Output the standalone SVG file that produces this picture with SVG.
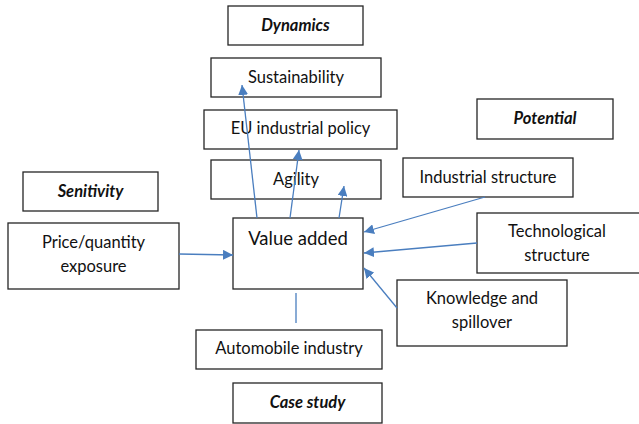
<svg xmlns="http://www.w3.org/2000/svg" width="639" height="424" viewBox="0 0 639 424">
  <style>
    .box { fill: #ffffff; stroke: #262626; stroke-width: 1.3; }
    .lbl { font-family: Lato, "Open Sans", sans-serif; font-size: 16.5px; fill: #111111; text-anchor: middle; }
    .hd { font-family: Lato, "Open Sans", sans-serif; font-size: 16.5px; font-weight: bold; font-style: italic; fill: #111111; text-anchor: middle; }
    .big { font-size: 18.5px; }
    .link { stroke: #4a7ebf; stroke-width: 1.3; fill: none; }
  </style>
  <defs>
    <marker id="arrowL" viewBox="0 0 10 10" refX="10" refY="5" markerWidth="10" markerHeight="10" markerUnits="userSpaceOnUse" orient="auto">
      <path d="M0,0 L10,5 L0,10 z" fill="#4a7ebf"/>
    </marker>
  </defs>

  <!-- heading boxes -->
  <g id="dynamics"><rect class="box" x="228" y="6" width="135" height="39"/><text class="hd" x="295.5" y="31">Dynamics</text></g>
  <g id="potential"><rect class="box" x="477" y="99" width="136" height="40"/><text class="hd" x="545" y="124">Potential</text></g>
  <g id="sensitivity"><rect class="box" x="23" y="172" width="135" height="39"/><text class="hd" x="90.5" y="197">Senitivity</text></g>
  <g id="case-study"><rect class="box" x="233" y="383" width="149" height="40"/><text class="hd" x="307.5" y="408">Case study</text></g>

  <!-- factor boxes -->
  <g id="sustainability"><rect class="box" x="211" y="58" width="170" height="39"/><text class="lbl" x="296" y="83">Sustainability</text></g>
  <g id="eu-policy"><rect class="box" x="204" y="110" width="193" height="39"/><text class="lbl" x="300.5" y="134">EU industrial policy</text></g>
  <g id="agility"><rect class="box" x="211" y="160" width="170" height="39"/><text class="lbl" x="296" y="185">Agility</text></g>
  <g id="industrial-structure"><rect class="box" x="403" y="158" width="170" height="39"/><text class="lbl" x="488" y="183">Industrial structure</text></g>
  <g id="technological-structure"><rect class="box" x="477" y="213" width="165" height="60"/><text class="lbl" x="557" y="237">Technological</text><text class="lbl" x="557" y="261">structure</text></g>
  <g id="knowledge"><rect class="box" x="397" y="280" width="170" height="66"/><text class="lbl" x="482" y="304">Knowledge and</text><text class="lbl" x="482" y="328">spillover</text></g>
  <g id="price-quantity"><rect class="box" x="8" y="223" width="171" height="66"/><text class="lbl" x="93.5" y="248">Price/quantity</text><text class="lbl" x="93.5" y="272">exposure</text></g>
  <g id="value-added"><rect class="box" x="233" y="218" width="130" height="71"/><text class="lbl big" x="298" y="245">Value added</text></g>
  <g id="automobile"><rect class="box" x="196" y="330" width="186" height="39"/><text class="lbl" x="289" y="354">Automobile industry</text></g>

  <!-- connectors -->
  <g id="connectors">
    <line class="link" x1="257" y1="218" x2="242" y2="85" marker-end="url(#arrowL)"/>
    <line class="link" x1="290" y1="218" x2="299" y2="150" marker-end="url(#arrowL)"/>
    <line class="link" x1="339" y1="218" x2="344" y2="186" marker-end="url(#arrowL)"/>
    <line class="link" x1="485" y1="197" x2="364" y2="232" marker-end="url(#arrowL)"/>
    <line class="link" x1="477" y1="243" x2="364" y2="253" marker-end="url(#arrowL)"/>
    <line class="link" x1="397" y1="308" x2="364" y2="268" marker-end="url(#arrowL)"/>
    <line class="link" x1="179" y1="254" x2="233" y2="255" marker-end="url(#arrowL)"/>
    <line class="link" x1="296" y1="293" x2="296" y2="323"/>
  </g>
</svg>
